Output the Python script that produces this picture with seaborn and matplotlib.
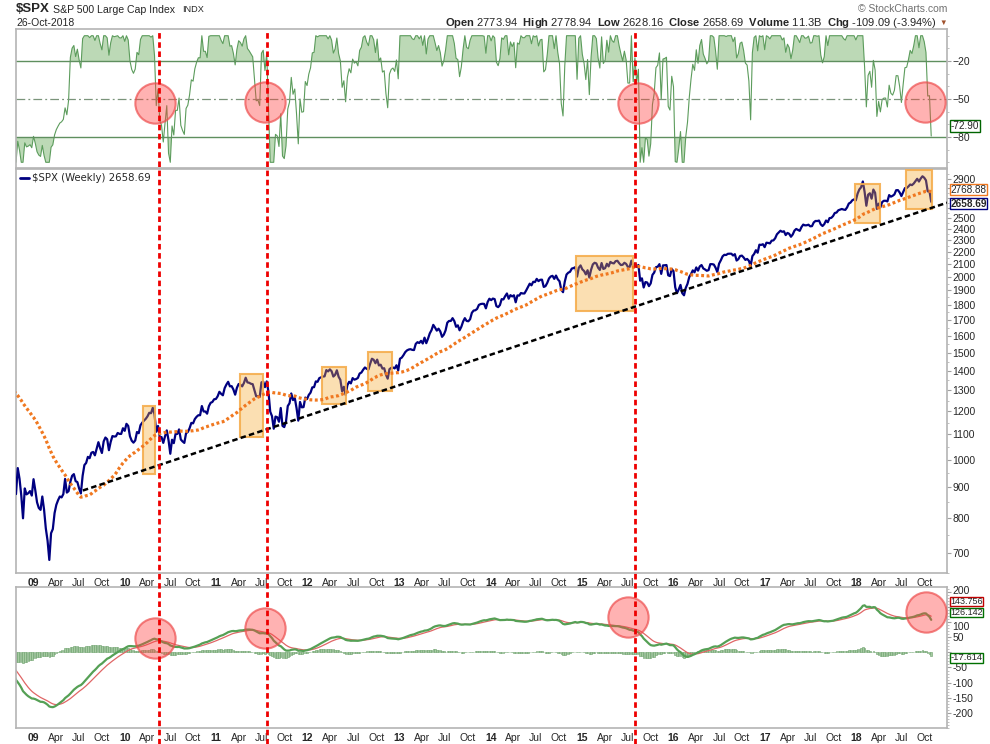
import numpy as np
import pandas as pd
import matplotlib
matplotlib.use("Agg")
import matplotlib.pyplot as plt
import matplotlib.dates as mdates
import matplotlib.transforms as mtransforms
from matplotlib.patches import Rectangle
from matplotlib.lines import Line2D
from matplotlib.ticker import NullFormatter
import seaborn as sns

# weekly closes of $SPX (Friday); 2008 is only warm-up for the indicators
close_2008 = [1411, 1401, 1325, 1331, 1395, 1331, 1349, 1353, 1331, 1294, 1288, 1330, 1316,
              1370, 1332, 1390, 1398, 1414, 1388, 1425, 1375, 1400, 1360, 1360, 1317, 1278,
              1262, 1239, 1260, 1257, 1260, 1296, 1298, 1292, 1283, 1242, 1252, 1255, 1213,
              1099, 899, 940, 877, 968, 930, 873, 800, 896, 876, 880, 887, 872]
close_2009 = [928, 890, 850, 832, 826, 869, 827, 770, 735, 683, 756, 768, 816, 842, 857, 869,
              866, 877, 929, 882, 887, 919, 940, 946, 921, 918, 896, 879, 940, 979, 987, 1010,
              1005, 1026, 1029, 1016, 1042, 1068, 1044, 1025, 1071, 1087, 1080, 1036, 1069,
              1093, 1091, 1092, 1106, 1102, 1102, 1126, 1115]
close_2010 = [1145, 1136, 1092, 1074, 1066, 1075, 1110, 1105, 1139, 1150, 1159, 1167, 1178,
              1194, 1192, 1217, 1187, 1111, 1136, 1088, 1089, 1065, 1092, 1117, 1076, 1022,
              1078, 1064, 1102, 1102, 1121, 1079, 1071, 1065, 1105, 1110, 1126, 1149, 1147,
              1166, 1176, 1183, 1183, 1225, 1200, 1200, 1190, 1224, 1240, 1244, 1257, 1258]
close_2011 = [1271, 1293, 1283, 1276, 1311, 1329, 1343, 1320, 1321, 1304, 1279, 1313, 1332,
              1328, 1320, 1337, 1364, 1340, 1338, 1333, 1331, 1300, 1271, 1272, 1268, 1340,
              1344, 1316, 1345, 1292, 1199, 1179, 1124, 1177, 1174, 1154, 1216, 1136, 1131,
              1155, 1225, 1238, 1285, 1253, 1263, 1216, 1159, 1244, 1219, 1220, 1265, 1258]
close_2012 = [1278, 1289, 1315, 1316, 1345, 1343, 1362, 1366, 1370, 1371, 1404, 1397, 1408,
              1398, 1370, 1379, 1403, 1369, 1353, 1295, 1318, 1278, 1326, 1343, 1335, 1362,
              1354, 1357, 1363, 1386, 1391, 1406, 1418, 1411, 1407, 1438, 1466, 1460, 1441,
              1461, 1429, 1433, 1412, 1414, 1380, 1359, 1409, 1416, 1418, 1413, 1430, 1402]
close_2013 = [1466, 1472, 1486, 1503, 1513, 1518, 1520, 1516, 1515, 1551, 1561, 1556, 1569,
              1553, 1588, 1555, 1582, 1614, 1634, 1667, 1650, 1631, 1643, 1626, 1593, 1606,
              1632, 1681, 1692, 1692, 1710, 1691, 1655, 1664, 1633, 1655, 1688, 1710, 1692,
              1690, 1703, 1745, 1760, 1762, 1771, 1798, 1804, 1806, 1805, 1775, 1818, 1841]
close_2014 = [1831, 1842, 1838, 1790, 1783, 1797, 1838, 1836, 1859, 1878, 1841, 1866, 1857,
              1865, 1816, 1864, 1863, 1881, 1878, 1878, 1900, 1924, 1949, 1937, 1963, 1961,
              1985, 1968, 1978, 1979, 1925, 1931, 1955, 1988, 2003, 2008, 1985, 2010, 1982,
              1967, 1906, 1887, 1964, 2018, 2032, 2039, 2064, 2068, 2075, 2002, 2071, 2089]
close_2015 = [2058, 2045, 2019, 2051, 1995, 2055, 2097, 2110, 2105, 2071, 2053, 2108, 2061,
              2067, 2102, 2081, 2117, 2108, 2105, 2123, 2126, 2107, 2092, 2094, 2110, 2101,
              2077, 2077, 2127, 2079, 2104, 2078, 2092, 1971, 1989, 1921, 1961, 1958, 1931,
              1951, 2015, 2033, 2075, 2079, 2099, 2023, 2089, 2090, 2092, 2012, 2006, 2061, 2044]
close_2016 = [1922, 1880, 1907, 1940, 1880, 1865, 1918, 1948, 1999, 2022, 2050, 2035, 2073,
              2048, 2081, 2092, 2065, 2057, 2047, 2052, 2099, 2099, 2096, 2071, 2037, 2103,
              2130, 2162, 2175, 2173, 2183, 2184, 2184, 2169, 2180, 2128, 2139, 2165, 2168,
              2153, 2133, 2141, 2126, 2085, 2164, 2182, 2213, 2192, 2260, 2258, 2264, 2239]
close_2017 = [2277, 2275, 2271, 2295, 2297, 2316, 2351, 2367, 2383, 2373, 2378, 2344, 2363,
              2355, 2329, 2349, 2384, 2399, 2391, 2382, 2416, 2439, 2432, 2433, 2438, 2423,
              2425, 2459, 2473, 2472, 2477, 2441, 2426, 2443, 2477, 2461, 2500, 2502, 2519,
              2549, 2553, 2575, 2581, 2588, 2582, 2579, 2603, 2642, 2652, 2675, 2684, 2674]
close_2018 = [2743, 2787, 2810, 2873, 2762, 2620, 2732, 2747, 2691, 2786, 2752, 2588, 2641,
              2604, 2656, 2670, 2670, 2663, 2728, 2712, 2721, 2735, 2779, 2780, 2755, 2718,
              2760, 2801, 2802, 2819, 2840, 2833, 2850, 2875, 2902, 2872, 2905, 2930, 2914,
              2885, 2767, 2768, 2659]
last_date = "2018-10-26"

# indicator settings
ma_weeks = 40
wr_period = 34
macd_fast, macd_slow, macd_signal = 26, 65, 9

# support trend line
trend_dates = ["2009-07-18", "2018-12-28"]
trend_values = [889, 2650]

# shaded boxes on the price panel
box_start = ["2010-03-15", "2011-04-05", "2012-02-27", "2012-08-29", "2014-12-07", "2017-12-25", "2018-07-17"]
box_end = ["2010-05-02", "2011-07-06", "2012-06-03", "2012-12-03", "2015-07-23", "2018-04-04", "2018-10-28"]
box_low = [947, 1089, 1235, 1297, 1755, 2453, 2589]
box_high = [1225, 1385, 1420, 1502, 2163, 2843, 2998]

# sell signal markers
signal_dates = ["2010-05-18", "2011-07-25", "2015-07-31"]
wr_circle_dates = ["2010-05-01", "2011-07-15", "2015-08-12", "2018-10-03"]
wr_circle_values = [-53, -52, -53, -52]
macd_circle_dates = ["2010-05-01", "2011-07-15", "2015-07-02", "2018-10-07"]
macd_circle_values = [48, 81, 117, 134]

# values shown in the right-hand tags
last_tags = {"ma": 2768.88, "close": 2658.69, "wr": -72.90,
             "signal": 143.756, "macd": 126.142, "hist": -17.614}

closes = close_2008 + close_2009 + close_2010 + close_2011 + close_2012 + close_2013 + \
    close_2014 + close_2015 + close_2016 + close_2017 + close_2018
df = pd.DataFrame({"date": pd.date_range(end=last_date, periods=len(closes), freq="W-FRI"),
                   "close": np.array(closes, dtype=float)})
df["ma"] = df["close"].rolling(ma_weeks).mean()
hh = df["close"].rolling(wr_period).max()
ll = df["close"].rolling(wr_period).min()
df["wr"] = (hh - df["close"]) / (hh - ll) * -100
ema_f = df["close"].ewm(span=macd_fast, adjust=False).mean()
ema_s = df["close"].ewm(span=macd_slow, adjust=False).mean()
df["macd"] = ema_f - ema_s
df["signal"] = df["macd"].ewm(span=macd_signal, adjust=False).mean()
df["hist"] = df["macd"] - df["signal"]

sns.set_style("white")
plt.rcParams["font.family"] = ["Liberation Sans", "DejaVu Sans"]
plt.rcParams["mathtext.fontset"] = "custom"
plt.rcParams["mathtext.rm"] = "Liberation Sans"
plt.rcParams["mathtext.bf"] = "Liberation Sans:bold"

W, H = 990, 744
fig = plt.figure(figsize=(W / 100, H / 100), dpi=100)


def fx(px):
    return px / W


def fy(py):
    return 1 - py / H


def panel(top, bottom):
    return fig.add_axes([fx(16), fy(bottom), fx(947 - 16), (bottom - top) / H])


ax_wr = panel(29, 168)
ax_px = panel(169, 573)
ax_md = panel(587, 728)

xlim = (pd.Timestamp("2008-10-24"), pd.Timestamp("2018-12-28"))
qtr = pd.date_range("2009-01-01", "2018-10-01", freq="QS")
qtr_labels = [d.strftime("%y") if d.month == 1 else d.strftime("%b") for d in qtr]

# ---- Williams %R panel
wr_fill = "#bcd9b6"
ax_wr.fill_between(df["date"], df["wr"], -20, where=df["wr"] > -20, interpolate=True, color=wr_fill, lw=0)
ax_wr.fill_between(df["date"], df["wr"], -80, where=df["wr"] < -80, interpolate=True, color=wr_fill, lw=0)
sns.lineplot(data=df, x="date", y="wr", ax=ax_wr, color="#5c9c5c", lw=0.8)
ax_wr.axhline(-20, color="#5f8f5f", lw=1)
ax_wr.axhline(-80, color="#5f8f5f", lw=1)
ax_wr.axhline(-50, color="#7a947a", lw=0.9, ls=(0, (7, 2.5, 1.5, 2.5)))
ax_wr.plot(pd.to_datetime(wr_circle_dates), wr_circle_values, "o", ms=29,
           mfc=(1, 0.25, 0.25, 0.4), mec=(0.93, 0.3, 0.3, 0.7), mew=1.5, zorder=6)
ax_wr.set_ylim(-104.5, 5.3)
ax_wr.set_yticks([-20, -50, -80])
ax_wr.set_yticks(np.arange(-100, 1, 10), minor=True)
ax_wr.yaxis.set_minor_formatter(NullFormatter())

# ---- price panel
ax_px.set_yscale("log")
sns.lineplot(data=df, x="date", y="close", ax=ax_px, color="#000080", lw=1.6, zorder=3)
sns.lineplot(data=df, x="date", y="ma", ax=ax_px, color="#f07820", lw=2.3,
             linestyle=(0, (0.9, 0.8)), zorder=5)
sns.lineplot(x=pd.to_datetime(trend_dates), y=trend_values, ax=ax_px, color="black", lw=1.8,
             linestyle=(0, (2.2, 1.3)), zorder=5)
for s, e, lo, hi in zip(box_start, box_end, box_low, box_high):
    x0 = mdates.date2num(pd.Timestamp(s))
    x1 = mdates.date2num(pd.Timestamp(e))
    ax_px.add_patch(Rectangle((x0, lo), x1 - x0, hi - lo, facecolor=(0.96, 0.65, 0.14, 0.35),
                              edgecolor=(0.96, 0.68, 0.3, 0.9), lw=1.5, zorder=4))
ax_px.set_ylim(654, 3012)
px_ticks = list(range(700, 3000, 100))
# 2600-2800 sit under the last-value tags, as on the original
ax_px.set_yticks(px_ticks, ["" if t in (2600, 2700, 2800) else str(t) for t in px_ticks])
ax_px.set_yticks(list(range(650, 3000, 50)), minor=True)
ax_px.yaxis.set_minor_formatter(NullFormatter())
ax_px.legend(handles=[Line2D([], [], color="#000080", lw=2)], labels=["$SPX (Weekly) 2658.69"],
             loc="upper left", frameon=False, prop={"family": "DejaVu Sans", "size": 7.3},
             handlelength=0.9, handletextpad=0.3, borderpad=0.2, borderaxespad=0.2)

# ---- MACD panel
ax_md.bar(df["date"], df["hist"], width=6, color="#a6cba2", edgecolor="#6a9f6a", linewidth=0.4)
sns.lineplot(data=df, x="date", y="signal", ax=ax_md, color="#e06666", lw=0.9)
sns.lineplot(data=df, x="date", y="macd", ax=ax_md, color="#55a055", lw=1.6)
ax_md.plot(pd.to_datetime(macd_circle_dates), macd_circle_values, "o", ms=29,
           mfc=(1, 0.25, 0.25, 0.4), mec=(0.93, 0.3, 0.3, 0.7), mew=1.5, zorder=6)
ax_md.set_ylim(-250, 216)
md_ticks = list(range(-200, 201, 50))
# 150 and 0 sit under the last-value tags, as on the original
ax_md.set_yticks(md_ticks, ["" if t in (0, 150) else str(t) for t in md_ticks])
ax_md.set_yticks(list(range(-250, 216, 10)), minor=True)
ax_md.yaxis.set_minor_formatter(NullFormatter())

# ---- common styling
for ax in (ax_wr, ax_px, ax_md):
    ax.set_xlim(*xlim)
    ax.set_xlabel("")
    ax.set_ylabel("")
    for sp in ax.spines.values():
        sp.set_color("#b4b4b4")
        sp.set_linewidth(1.2)
    ax.yaxis.tick_right()
    ax.tick_params(axis="y", which="major", direction="out", length=3, width=0.8,
                   color="#a0a0a0", labelsize=7.5, pad=1)
    ax.tick_params(axis="y", which="minor", direction="out", length=1.5, width=0.6, color="#b4b4b4")
    ax.set_xticks(qtr)
ax_wr.tick_params(axis="x", length=0, labelbottom=False)
for ax in (ax_px, ax_md):
    ax.set_xticks(qtr, qtr_labels)
    ax.tick_params(axis="x", direction="out", length=2, color="#b4b4b4", labelsize=7.5, pad=1.5)
    for lbl, d in zip(ax.get_xticklabels(), qtr):
        if d.month == 1:
            lbl.set_fontweight("bold")

# nudge the 200 / 100 labels of the MACD axis so the two stacked tags fit between them
for t in ax_md.yaxis.get_major_ticks():
    if t.get_loc() in (200, 100):
        dy = 1.2 if t.get_loc() == 200 else -2.6
        off = mtransforms.ScaledTranslation(0, dy / 72, fig.dpi_scale_trans)
        t.label2.set_transform(t.label2.get_transform() + off)


def tag(ax, y, text, edge, bold=False, shift=0, size=7.2, pad=0.06):
    ax.annotate(text, xy=(1.0, y), xycoords=("axes fraction", "data"), xytext=(2.5, shift),
                textcoords="offset points", ha="left", va="center", fontsize=size,
                fontweight="bold" if bold else "normal", annotation_clip=False, zorder=20,
                bbox=dict(boxstyle=f"square,pad={pad}", fc="white", ec=edge, lw=1))


tag(ax_wr, last_tags["wr"], f"{last_tags['wr']:.2f}", "#006400", shift=1.5)
tag(ax_px, last_tags["ma"], f"{last_tags['ma']:.2f}", "#f07820", shift=1.2)
tag(ax_px, last_tags["close"], f"{last_tags['close']:.2f}", "#000080", bold=True, shift=-1.2)
tag(ax_md, last_tags["signal"], f"{last_tags['signal']:.3f}", "#c00000", shift=5.4, size=6.5, pad=0.03)
tag(ax_md, last_tags["macd"], f"{last_tags['macd']:.3f}", "#007000", shift=1.3, size=6.5, pad=0.03)
tag(ax_md, last_tags["hist"], f"{last_tags['hist']:.3f}", "#007000", size=6.8)

# red dashed sell lines through all panels
blend = mtransforms.blended_transform_factory(ax_md.transData, fig.transFigure)
for d in signal_dates:
    x = mdates.date2num(pd.Timestamp(d))
    fig.add_artist(Line2D([x, x], [0, fy(29)], transform=blend, color="#ee0000", lw=2,
                          ls=(0, (2, 1.3)), zorder=10))

# header
fig.text(fx(16), fy(9.5), "$SPX", fontsize=9.5, fontweight="bold", va="center")
fig.text(fx(53), fy(10), "S&P 500 Large Cap Index", fontsize=7.6, va="center")
fig.text(fx(182), fy(10), "INDX", fontsize=6.6, va="center")
fig.text(fx(16), fy(23), "26-Oct-2018", fontsize=7.5, va="center")
fig.text(fx(947), fy(9), "\u00a9 StockCharts.com", fontsize=7.5, color="#707070", ha="right", va="center")
hdr = (r"$\mathbf{Open}$ 2773.94  $\mathbf{High}$ 2778.94  $\mathbf{Low}$ 2628.16  "
       r"$\mathbf{Close}$ 2658.69  $\mathbf{Volume}$ 11.3B  $\mathbf{Chg}$ -109.09 (-3.94%)")
fig.text(fx(937), fy(23), hdr, fontsize=8, ha="right", va="center")
fig.text(fx(943), fy(23), "\u25bc", fontsize=5.5, color="#a0522d", ha="center", va="center")

fig.savefig("out.png", dpi=100)
